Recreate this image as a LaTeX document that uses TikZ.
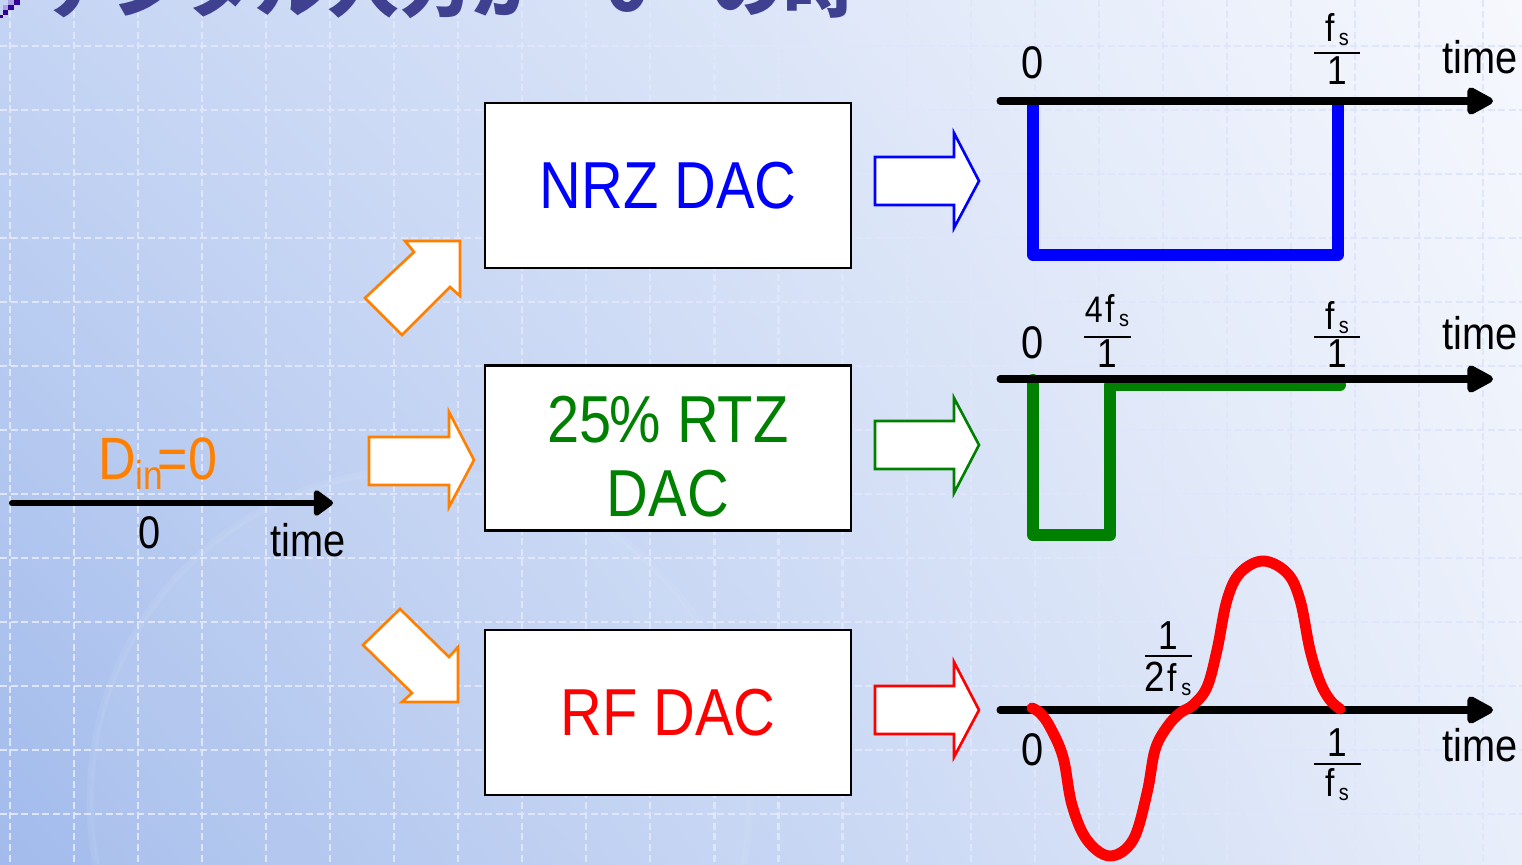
\documentclass[tikz,border=0pt]{standalone}
\usepackage{fontspec}
\setmainfont{Liberation Sans}[FakeStretch=0.87]
\newfontfamily\cjk{Noto Sans CJK JP}
\usetikzlibrary{arrows.meta,shadings}
\definecolor{ttl}{RGB}{64,64,144}
\definecolor{dorange}{RGB}{255,128,0}
\definecolor{dgreen}{RGB}{0,128,0}
\definecolor{pblue}{RGB}{0,0,255}
\definecolor{pred}{RGB}{255,0,0}
\definecolor{bgLL}{RGB}{162,187,236}
\definecolor{bgUL}{RGB}{196,212,243}
\definecolor{bgUR}{RGB}{246,248,253}
\definecolor{bgLR}{RGB}{232,238,250}
\definecolor{gridb}{RGB}{150,170,240}
\definecolor{icon}{RGB}{50,0,150}
\definecolor{iconl}{RGB}{170,160,230}
\begin{document}
\begin{tikzpicture}[x=0.01cm,y=-0.01cm,
  box/.style={draw=black, line width=0.75pt, fill=white, minimum width=3.66cm, minimum height=1.65cm, inner sep=0pt, align=center, font=\fontsize{18.9}{21.5}\selectfont},
  boxtxt/.style={inner sep=0pt, align=center, font=\fontsize{18.9}{21}\selectfont},
  lbl/.style={inner sep=0pt, font=\fontsize{13}{13}\selectfont},
  num/.style={inner sep=0pt, anchor=base},
  fbar/.style={line width=0.45pt, black},
  axisR/.style={line width=2pt, line cap=round, -{Triangle[length=8.5pt,width=8.5pt,round]}},
  axisL/.style={line width=1.7pt, line cap=round, -{Triangle[length=6pt,width=8.3pt,round]}},
  hollow/.style={line width=0.75pt, fill=white, line join=miter},
  pulse/.style={line width=3.2pt, line join=round, line cap=round},
  gridw/.style={white, line width=0.6pt, dash pattern=on 2pt off 1pt},
  gridbl/.style={gridb, opacity=0.3, line width=0.6pt, dash pattern=on 2pt off 1pt}
]
\useasboundingbox (0,0) rectangle (1522,865);
\clip (0,0) rectangle (1522,865);
% background
\shade[upper left=bgUL, upper right=bgUR, lower left=bgLL, lower right=bgLR] (0,0) rectangle (1522,865);
\fill[white, opacity=0.05] (420,800) circle (330);
\draw[white, opacity=0.07, line width=2pt] (420,800) circle (330);
% grid
\foreach \i in {0,...,23} {
  \draw[gridw] (10+64.04*\i,0) -- (10+64.04*\i,865);
  \draw[gridbl] (10+64.04*\i,0) -- (10+64.04*\i,865);
}
\foreach \j in {-6,...,6} {
  \draw[gridw] (0,430+64*\j) -- (1522,430+64*\j);
  \draw[gridbl] (0,430+64*\j) -- (1522,430+64*\j);
}
% icon top-left
\fill[iconl] (8,0) rectangle (14,5);
\fill[iconl] (3,5) rectangle (8,10);
\fill[icon] (14,0) rectangle (20,5);
\fill[icon] (8,5) rectangle (14,10);
\fill[icon] (3,10) rectangle (8,15);
\fill[icon] (0,15) rectangle (3,18);
% title (cut off at top, as in the reference)
\node[anchor=base west, inner sep=0pt, text=ttl, font=\cjk\bfseries\fontsize{20.5}{20.5}\selectfont] (title) at (40,12) {デジタル入力が “0” の時};

% input
\coordinate (l0) at (12,503);
\coordinate (l1) at (333,503);
\draw[axisL] (l0) -- (l1);
\node[lbl] (lz) at (150,533) {0};
\node[lbl, anchor=base] (lt) at (308,557) {time};
\node[anchor=base west, inner sep=0pt, text=dorange, font=\fontsize{17}{17}\selectfont] (din) at (98,480) {D\kern-0.3pt\raisebox{-2.8pt}{\fontsize{11.5}{11.5}\selectfont in}\kern-1.4pt=0};

% orange block arrows
\draw[hollow, draw=dorange] (405,241) -- (460,241) -- (460,296) -- (450,287) -- (402,335) -- (365,298) -- (414,252) -- cycle;
\draw[hollow, draw=dorange] (369,437) -- (449,437) -- (449,412) -- (474,460) -- (449,507) -- (449,485) -- (369,485) -- cycle;
\draw[hollow, draw=dorange] (400,609) -- (449,657) -- (458,647) -- (458,702) -- (402,702) -- (412,693) -- (363,645) -- cycle;

% DAC boxes
\node[box, text=pblue] (nrz) at (668,185.5) {NRZ DAC};
\node[box] (rtz) at (668,448) {};
\node[boxtxt, text=dgreen] (rtzt) at (668,457) {25\kern-0.6pt\% RTZ\\DAC};
\node[box, text=pred] (rf) at (668,712.5) {RF DAC};

% output block arrows
\draw[hollow, draw=pblue] (875,157) -- (954,157) -- (954,133) -- (979,181) -- (954,228) -- (954,205) -- (875,205) -- cycle;
\draw[hollow, draw=dgreen] (875,421) -- (954,421) -- (954,398) -- (979,445) -- (954,493) -- (954,469) -- (875,469) -- cycle;
\draw[hollow, draw=pred] (875,686) -- (954,686) -- (954,662) -- (979,710) -- (954,757) -- (954,734) -- (875,734) -- cycle;

% ---- NRZ waveform
\draw[pulse, pblue] (1033,104) -- (1033,255) -- (1338,255) -- (1338,104);
\coordinate (a1s) at (1000,101);
\coordinate (a1e) at (1493,101);
\draw[axisR] (a1s) -- (a1e);
\node[lbl] (z1) at (1033,63) {0};
\node[lbl, anchor=base] (t1) at (1480,74) {time};
\node[num] (n1) at (1337,42) {\fontsize{11}{11}\selectfont f\kern1.2pt\raisebox{-1pt}{\fontsize{6.5}{6.5}\selectfont s}};
\draw[fbar] (1314,53) -- (1360,53);
\node[num] (d1) at (1337,85) {\fontsize{11.5}{11.5}\selectfont 1};

% ---- RTZ waveform
\draw[pulse, dgreen, line width=3.4pt] (1033,380) -- (1033,535) -- (1110,535) -- (1110,385) -- (1340,385);
\coordinate (a2s) at (1000,379);
\coordinate (a2e) at (1493,379);
\draw[axisR] (a2s) -- (a2e);
\node[lbl] (z2) at (1033,343) {0};
\node[lbl, anchor=base] (t2) at (1480,350) {time};
\node[num] (n2) at (1107,323) {\fontsize{10.5}{10.5}\selectfont 4\kern0.8pt{\fontsize{11}{11}\selectfont f}\kern1.2pt\raisebox{-1pt}{\fontsize{6.5}{6.5}\selectfont s}};
\draw[fbar] (1084,337) -- (1131,337);
\node[num] (d2) at (1107,368) {\fontsize{11.5}{11.5}\selectfont 1};
\node[num] (n3) at (1337,330) {\fontsize{11}{11}\selectfont f\kern1.2pt\raisebox{-1pt}{\fontsize{6.5}{6.5}\selectfont s}};
\draw[fbar] (1314,337) -- (1360,337);
\node[num] (d3) at (1337,368) {\fontsize{11.5}{11.5}\selectfont 1};

% ---- RF waveform
\coordinate (a3s) at (1000,710);
\coordinate (a3e) at (1493,710);
\draw[axisR] (a3s) -- (a3e);
\draw[pred, line width=3.1pt, line cap=round, line join=round] plot[smooth, tension=0.6] coordinates {
 (1032,708) (1040,713) (1050,727) (1063,757) (1072,805) (1087,840) (1110,856)
 (1133,840) (1147,793) (1155,750) (1167,727) (1180,713) (1193,705) (1207,687)
 (1217,650) (1227,600) (1240,573) (1263,561) (1287,573) (1300,600) (1310,650)
 (1320,682) (1330,700) (1340,709)};
\node[lbl] (z3) at (1033,750) {0};
\node[lbl, anchor=base] (t3) at (1480,762) {time};
\node[num] (n4) at (1168,650) {\fontsize{11.5}{11.5}\selectfont 1};
\draw[fbar] (1145,656) -- (1192,656);
\node[num] (d4) at (1168,692) {\fontsize{12}{12}\selectfont 2\kern0.8pt{\fontsize{11}{11}\selectfont f}\kern1.2pt\raisebox{-1pt}{\fontsize{6.5}{6.5}\selectfont s}};
\node[num] (n5) at (1337,757) {\fontsize{11.5}{11.5}\selectfont 1};
\draw[fbar] (1314,764) -- (1361,764);
\node[num] (d5) at (1337,797) {\fontsize{11}{11}\selectfont f\kern1.2pt\raisebox{-1pt}{\fontsize{6.5}{6.5}\selectfont s}};
\end{tikzpicture}
\end{document}
